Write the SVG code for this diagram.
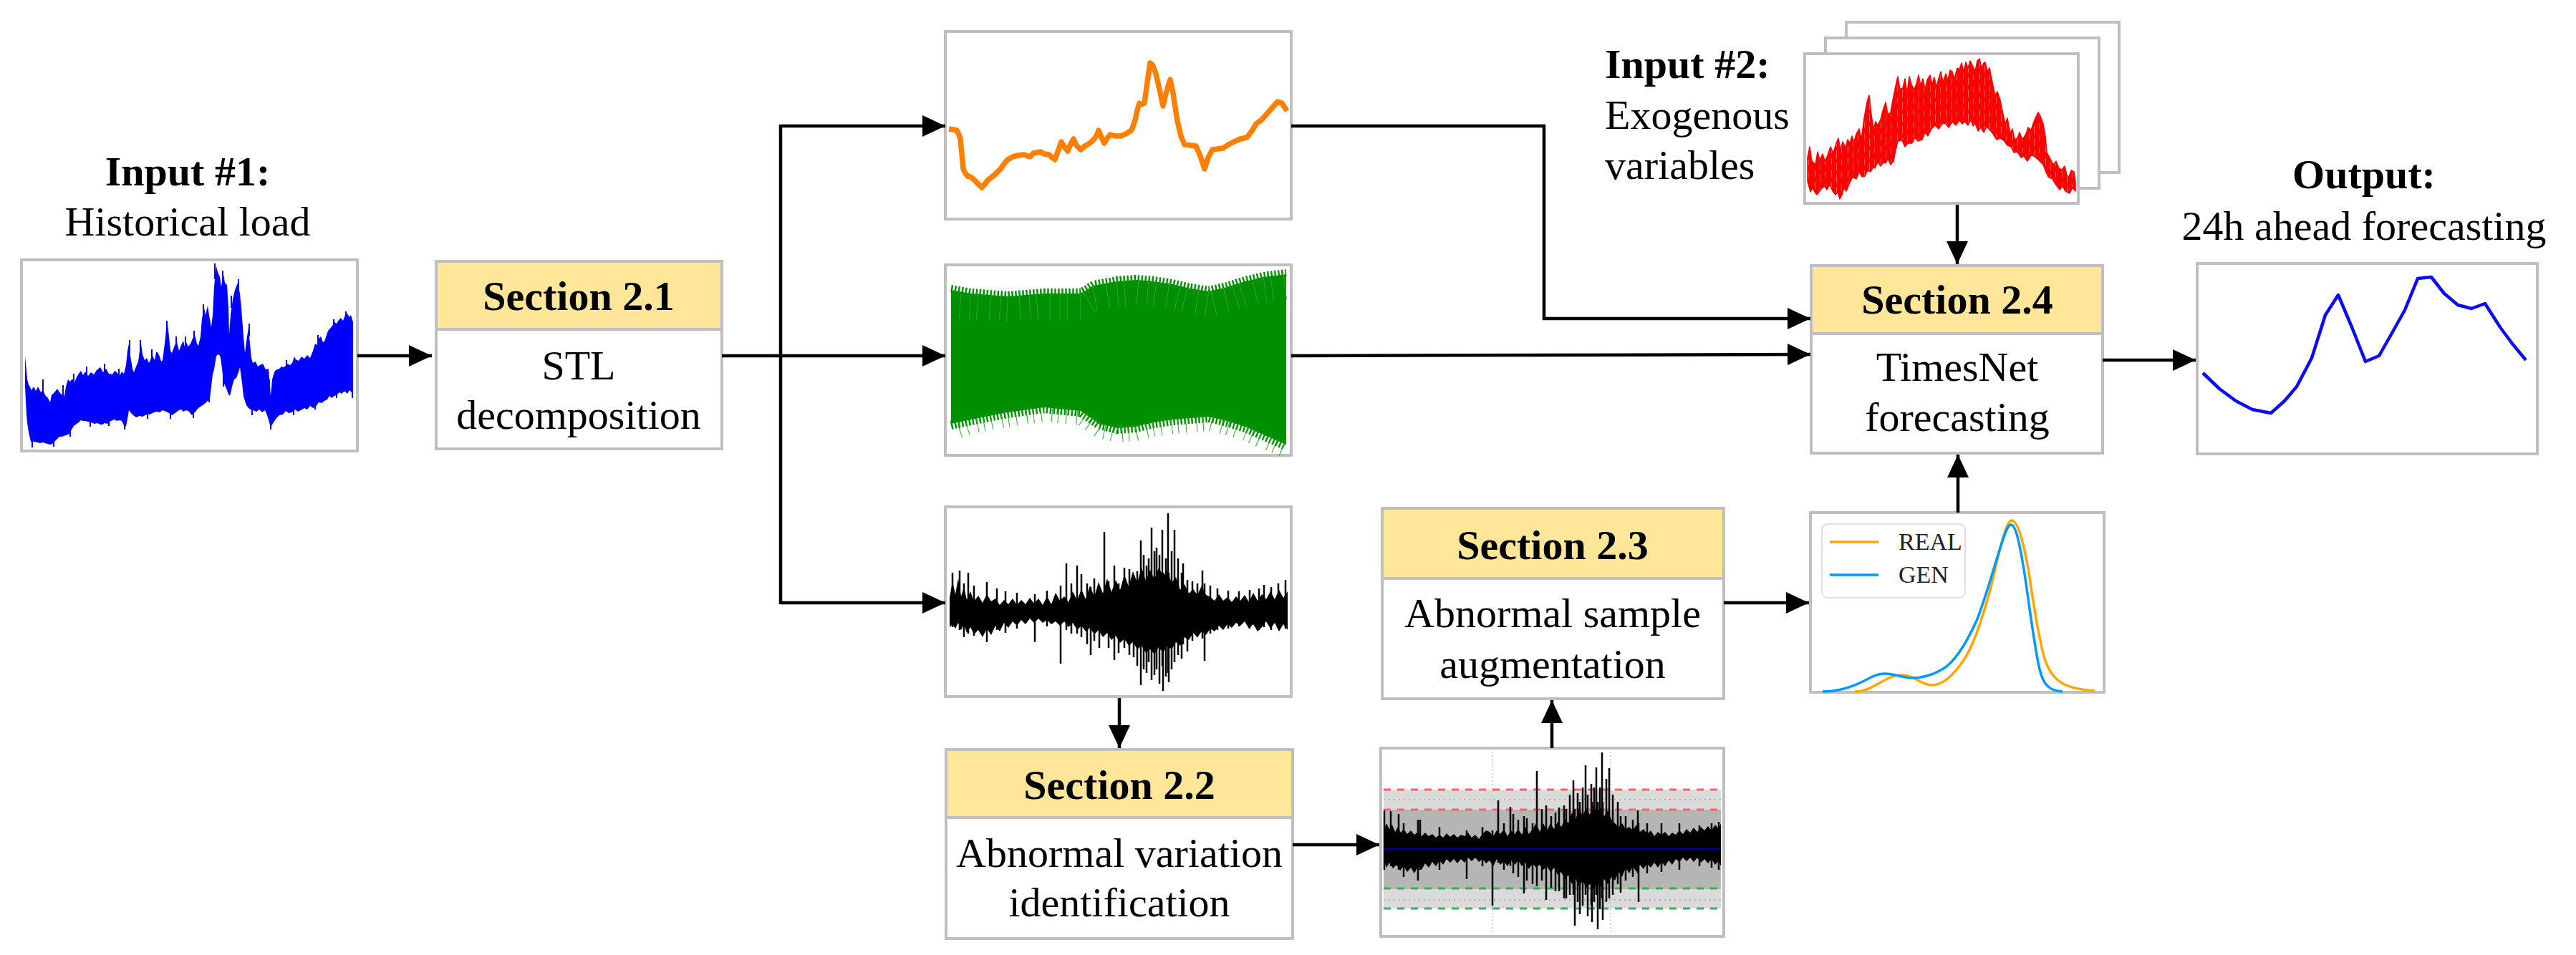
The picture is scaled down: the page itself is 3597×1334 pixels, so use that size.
<svg xmlns="http://www.w3.org/2000/svg" width="3597" height="1334" viewBox="0 0 3597 1334">
<style>
.box{fill:#fff;stroke:#bfbfbf;stroke-width:4}
.hdr{fill:#ffe699;stroke:#bfbfbf;stroke-width:4}
.t{font-family:"Liberation Serif","Times New Roman",serif;font-size:58px;fill:#000}
.b{font-weight:bold}
.c{text-anchor:middle}
.ln{fill:none;stroke:#000;stroke-width:4.5}
.lg{font-family:"Liberation Serif","Times New Roman",serif;font-size:34px;fill:#222}
</style>
<defs>
<marker id="ah" markerUnits="userSpaceOnUse" markerWidth="34" markerHeight="32" refX="32" refY="15" orient="auto"><path d="M0,0 L32,15 L0,30 z" fill="#000"/></marker>
<pattern id="redtex" width="23" height="17" patternUnits="userSpaceOnUse"><rect width="23" height="17" fill="#ff0000"/><rect x="4" y="0" width="0.7" height="9" fill="#ff9090"/><rect x="11" y="6" width="0.6" height="11" fill="#ffa0a0"/><rect x="18" y="2" width="0.7" height="8" fill="#ff8080"/></pattern>
</defs>
<rect width="3597" height="1334" fill="#fff"/>

<g id="input1">
<text class="t b c" x="262" y="259">Input #1:</text>
<text class="t c" x="262" y="329">Historical load</text>
<rect class="box" x="30" y="363" width="469" height="267"/>
<path fill="#0000ff" d="M35,497 L38,530 40,537 44,545 47,540 50,546 53,540 57,548 60,544 63,552 67,556 70,562 72,552 74,550 77,547 80,543 83,548 86,551 90,553 92,540 95,530 98,533 101,529 104,534 107,527 110,522 113,518 116,524 119,519 123,525 127,520 131,523 135,517 140,513 144,520 148,515 152,522 157,523 160,518 163,520 167,525 170,519 173,522 176,510 178,490 180,480 182,497 185,515 187,520 190,512 193,505 195,490 197,480 199,495 202,503 205,500 208,507 211,500 213,497 216,503 218,492 220,492 223,498 225,505 227,503 230,480 232,460 234,453 236,470 238,490 240,493 243,485 245,480 247,478 250,490 253,482 256,476 258,485 260,478 263,484 266,480 269,473 272,468 275,480 277,483 280,470 282,445 285,430 287,440 290,427 292,440 295,457 297,440 299,400 302,372 304,380 307,387 309,400 312,383 314,395 317,398 319,430 320,467 322,440 325,418 328,405 332,395 335,410 337,430 340,470 342,493 345,470 347,458 349,480 351,500 353,507 357,505 360,512 363,510 367,508 371,516 375,515 377,540 378,553 380,530 383,520 385,517 390,515 393,512 397,513 401,508 405,510 408,507 411,498 413,502 417,504 421,498 425,501 429,496 433,500 437,490 440,480 443,482 445,473 448,470 451,478 453,477 456,468 458,462 460,460 464,455 467,450 470,452 473,447 476,444 479,448 482,440 485,438 488,443 490,440 493,450 L493,553 491,548 488,545 485,550 482,547 480,547 477,550 474,548 470,552 467,553 463,556 460,553 457,558 453,560 449,563 445,562 441,568 437,570 433,567 429,572 425,570 420,573 416,575 412,572 408,576 403,577 399,574 395,579 390,580 386,584 382,590 379,595 378,597 376,590 373,580 370,573 366,576 362,572 358,575 353,573 350,572 347,570 344,566 342,560 340,553 338,535 336,520 335,513 333,520 330,528 327,530 324,540 322,550 320,553 317,545 314,538 312,533 310,515 308,500 307,497 305,495 302,497 300,510 298,520 297,523 295,540 293,557 290,560 287,563 283,566 280,568 277,570 273,575 270,578 268,580 264,575 260,573 256,575 253,572 250,573 246,576 243,578 240,580 236,577 232,575 227,573 223,576 218,575 213,577 209,579 206,578 203,580 199,582 195,581 190,583 186,580 183,577 180,573 178,585 176,595 174,597 172,592 170,588 167,587 163,588 160,586 157,587 153,589 150,592 146,591 143,593 140,593 136,591 132,592 127,590 123,589 119,588 116,588 113,587 110,590 107,592 103,595 100,600 98,604 95,607 92,608 89,609 86,610 83,610 80,613 76,617 73,620 70,621 66,620 63,619 60,618 56,619 52,618 48,617 43,617 40,604 38,590 37,580 35,540 Z"/>
<path fill="none" stroke="#0000ff" stroke-width="2" d="M60,530V560 M88,538V560 M103,522V540 M121,512V530 M146,508V525 M166,515V530 M181,475V500 M196,475V500 M212,488V505 M233,448V470 M246,470V490 M259,470V490 M271,462V485 M284,425V445 M300,368V390 M311,378V400 M323,413V430 M333,390V410 M348,452V470 M376,530V560 M400,503V515 M444,468V482 M466,446V460 M483,435V450 M45,600V625 M75,605V624 M98,595V610 M126,580V596 M152,580V595 M174,585V600 M206,570V585 M238,570V585 M270,570V584 M292,545V562 M312,520V540 M337,505V520 M352,565V580 M378,580V600 M410,565V580 M440,558V572 M470,545V556 M492,540V556"/>
</g>

<g id="section21">
<rect class="box" x="609" y="365" width="399" height="262"/>
<rect class="hdr" x="609" y="365" width="399" height="95"/>
<text class="t b c" x="808" y="433">Section 2.1</text>
<text class="t c" x="808" y="530">STL</text>
<text class="t c" x="808" y="599">decomposition</text>
</g>

<g id="trend">
<rect class="box" x="1320" y="44" width="483" height="262"/>
<polyline fill="none" stroke="#ff8000" stroke-width="7.5" stroke-linejoin="round" points="1325,180 1331,181 1336,182 1339,188 1341,194 1343,215 1345,236 1348,242 1351,246 1355,247 1359,250 1364,255 1368,259 1371,262 1376,256 1380,251 1384,248 1390,243 1397,236 1402,229 1407,223 1414,219 1422,217 1430,216 1438,219 1443,214 1448,213 1453,212 1458,215 1465,216 1470,221 1473,223 1477,212 1482,198 1486,205 1491,211 1495,201 1499,194 1503,203 1509,209 1515,204 1520,201 1524,198 1528,194 1532,188 1534,182 1538,192 1542,200 1546,193 1550,188 1557,190 1565,190 1572,187 1580,182 1585,168 1588,154 1591,144 1594,146 1598,144 1602,115 1606,88 1610,92 1614,103 1619,125 1624,148 1629,127 1634,111 1638,130 1641,150 1644,169 1649,190 1654,202 1662,203 1670,204 1676,218 1682,236 1687,220 1693,209 1700,208 1708,207 1715,202 1723,198 1732,194 1741,192 1748,183 1754,173 1762,167 1769,159 1776,151 1784,142 1790,144 1797,155"/>
</g>

<g id="seasonal">
<rect class="box" x="1320" y="370" width="483" height="266"/>
<path fill="#008f00" d="M1328,405 L1356,410 1407,414 1458,410 1509,410 1527,399 1560,393 1586,391 1611,393 1637,397 1662,403 1688,407 1713,401 1739,393 1764,387 1796,383 L1796,621 1764,607 1739,596 1713,588 1688,582 1637,586 1611,590 1586,596 1560,598 1535,592 1509,574 1458,569 1407,576 1356,586 1328,592 Z"/>
<polyline fill="none" stroke="#009300" stroke-width="10" stroke-dasharray="2.5 2.5" points="1328,403 1356,408 1407,412 1458,408 1509,408 1527,397 1560,391 1586,389 1611,391 1637,395 1662,401 1688,405 1713,399 1739,391 1764,385 1796,381"/>
<polyline fill="none" stroke="#009300" stroke-width="12" stroke-dasharray="2.5 2.5" points="1328,594 1356,588 1407,578 1458,571 1509,576 1535,594 1560,600 1586,598 1611,592 1637,588 1688,584 1713,590 1739,598 1764,609 1796,623"/>
<polyline fill="none" stroke="#2aa52a" stroke-width="34" stroke-dasharray="1 13 1 9 1 17" points="1340,428 1407,432 1458,428 1509,428 1527,417 1560,411 1586,409 1611,411 1637,415 1662,421 1688,425 1713,419 1739,411 1764,405 1796,401"/>
<polyline fill="none" stroke="#2aa52a" stroke-width="20" stroke-dasharray="1 10 1 14 1 8" points="1340,602 1356,596 1407,586 1458,579 1509,584 1535,602 1560,608 1586,606 1611,600 1637,596 1688,592 1713,598 1739,606 1764,617 1796,630"/>
</g>

<g id="residual">
<rect class="box" x="1320" y="708" width="483" height="265"/>
<path fill="#000" d="M1326,835 L1330,812 1334,830 1338,808 1342,833 1346,820 1350,838 1355,826 1360,840 1366,832 1372,842 1378,830 1384,840 1390,836 1396,845 1402,838 1408,844 1414,836 1420,845 1426,838 1432,844 1438,835 1444,843 1450,836 1456,845 1462,833 1468,844 1474,828 1480,839 1486,833 1492,841 1498,826 1504,839 1510,823 1516,837 1522,818 1528,834 1534,813 1540,829 1546,808 1552,827 1558,810 1564,824 1570,803 1576,819 1582,798 1588,814 1594,793 1600,811 1606,796 1612,809 1618,793 1624,804 1630,798 1636,814 1642,806 1648,824 1654,816 1660,829 1666,823 1672,831 1678,818 1684,831 1690,834 1696,839 1702,830 1708,839 1714,834 1720,841 1726,833 1732,839 1738,831 1744,841 1750,828 1756,839 1762,830 1768,837 1774,826 1780,837 1786,824 1792,835 1798,826 L1798,880 1792,872 1786,882 1780,870 1774,878 1768,868 1762,876 1756,882 1750,872 1744,878 1738,868 1732,874 1726,870 1720,877 1714,872 1708,880 1702,874 1696,882 1690,878 1684,887 1678,882 1672,890 1666,884 1660,894 1654,890 1648,902 1642,897 1636,907 1630,902 1624,912 1618,904 1612,914 1606,907 1600,912 1594,902 1588,907 1582,897 1576,902 1570,892 1564,898 1558,888 1552,894 1546,884 1540,890 1534,880 1528,886 1522,877 1516,882 1510,874 1504,880 1498,870 1492,876 1486,868 1480,874 1474,868 1468,872 1462,866 1456,870 1450,864 1444,870 1438,864 1432,872 1426,866 1420,874 1414,868 1408,877 1402,870 1396,882 1390,874 1384,887 1378,878 1372,890 1366,880 1360,886 1355,876 1350,884 1346,872 1342,880 1338,870 1334,878 1330,872 1326,876 Z"/>
<path fill="none" stroke="#000" stroke-width="2.5" d="M1330,800V876 M1340,797V880 M1346,815V890 M1352,800V885 M1360,818V888 M1378,813V897 M1392,822V880 M1404,826V884 M1420,828V878 M1445,830V897 M1462,825V875 M1481,818V927 M1489,787V880 M1496,815V885 M1504,790V885 M1510,802V890 M1518,815V900 M1523,820V915 M1528,808V895 M1535,820V905 M1542,743V880 M1548,812V905 M1556,790V922 M1562,815V912 M1570,793V905 M1577,795V915 M1583,810V918 M1588,798V930 M1593,755V957 M1597,775V935 M1601,790V940 M1604,780V925 M1608,737V950 M1612,770V943 M1615,765V935 M1619,775V955 M1623,740V930 M1624,800V965 M1628,780V945 M1631,717V940 M1632,800V953 M1636,770V935 M1640,740V925 M1645,780V915 M1650,800V920 M1652,787V900 M1658,810V910 M1665,812V895 M1672,815V890 M1679,797V892 M1682,815V923 M1690,818V885 M1700,822V880 M1715,825V878 M1730,826V875 M1745,824V878 M1758,822V880 M1765,817V876 M1775,820V880 M1785,815V878 M1795,810V878"/>
</g>

<g id="section22">
<rect class="box" x="1321" y="1047" width="484" height="264"/>
<rect class="hdr" x="1321" y="1047" width="484" height="95"/>
<text class="t b c" x="1563" y="1116">Section 2.2</text>
<text class="t c" x="1563" y="1211">Abnormal variation</text>
<text class="t c" x="1563" y="1280">identification</text>
</g>

<g id="abnormal-plot">
<rect class="box" x="1928" y="1045" width="479" height="263"/>
<rect x="1932" y="1103" width="471" height="166" fill="#dadada"/>
<rect x="1932" y="1131" width="471" height="111" fill="#b5b5b5"/>
<path fill="none" stroke="#c8c8c8" stroke-width="1.5" stroke-dasharray="2 3" d="M2084,1050V1303 M2249,1050V1303"/>
<path fill="none" stroke="#a0a0a0" stroke-width="1.5" stroke-dasharray="2 5" d="M1932,1117H2403 M1932,1257H2403"/>
<path fill="none" stroke="#ff6060" stroke-width="3" stroke-dasharray="10 9" d="M1932,1103H2403 M1932,1131H2403"/>
<path fill="none" stroke="#3cae5c" stroke-width="3" stroke-dasharray="10 9" d="M1932,1241H2403 M1932,1269H2403"/>
<path fill="#000" d="M1932,1160 L1936,1150 1940,1158 1944,1152 1948,1162 1952,1155 1956,1163 1960,1158 1965,1165 1970,1160 1975,1166 1980,1162 1985,1168 1990,1163 1995,1168 2000,1165 2005,1170 2010,1166 2015,1170 2020,1164 2025,1169 2030,1165 2035,1170 2040,1166 2045,1168 2050,1163 2055,1170 2060,1166 2065,1172 2070,1165 2075,1160 2080,1162 2085,1168 2090,1160 2095,1165 2100,1158 2105,1168 2110,1160 2115,1165 2120,1158 2125,1166 2130,1155 2135,1165 2140,1158 2145,1150 2150,1162 2155,1150 2160,1160 2165,1150 2170,1158 2175,1148 2180,1155 2185,1145 2190,1150 2195,1135 2200,1145 2205,1130 2210,1140 2215,1128 2220,1138 2225,1125 2230,1135 2235,1128 2240,1140 2245,1132 2250,1145 2255,1150 2260,1155 2265,1150 2270,1158 2275,1155 2280,1160 2285,1152 2290,1162 2295,1158 2300,1165 2305,1160 2310,1168 2315,1162 2320,1166 2325,1162 2330,1168 2335,1163 2340,1166 2345,1160 2350,1165 2355,1158 2360,1163 2365,1156 2370,1162 2375,1155 2380,1160 2385,1154 2390,1160 2395,1152 2400,1158 2403,1150 L2403,1210 2400,1202 2395,1208 2390,1200 2385,1206 2380,1200 2375,1205 2370,1198 2365,1204 2360,1198 2355,1203 2350,1198 2345,1204 2340,1200 2335,1208 2330,1202 2325,1210 2320,1204 2315,1212 2310,1205 2305,1212 2300,1206 2295,1214 2290,1208 2285,1218 2280,1210 2275,1220 2270,1212 2265,1225 2260,1218 2255,1230 2250,1225 2245,1235 2240,1228 2235,1240 2230,1232 2225,1242 2220,1235 2215,1240 2210,1230 2205,1238 2200,1228 2195,1235 2190,1222 2185,1228 2180,1218 2175,1222 2170,1212 2165,1218 2160,1210 2155,1215 2150,1208 2145,1212 2140,1206 2135,1214 2130,1205 2125,1210 2120,1202 2115,1208 2110,1202 2105,1210 2100,1203 2095,1208 2090,1200 2085,1210 2080,1202 2075,1206 2070,1200 2065,1204 2060,1198 2055,1203 2050,1198 2045,1205 2040,1200 2035,1206 2030,1200 2025,1205 2020,1200 2015,1208 2010,1202 2005,1210 2000,1204 1995,1212 1990,1206 1985,1215 1980,1210 1975,1220 1970,1212 1965,1218 1960,1210 1955,1216 1950,1208 1945,1213 1940,1205 1936,1212 1932,1200 Z"/>
<path fill="none" stroke="#000" stroke-width="2.5" d="M1933,1132V1215 M1942,1133V1210 M1953,1137V1215 M1960,1150V1225 M1980,1145V1230 M1983,1145V1215 M2010,1155V1215 M2048,1160V1228 M2070,1155V1210 M2084,1160V1265 M2092,1118V1205 M2100,1150V1215 M2109,1127V1210 M2113,1137V1220 M2120,1145V1225 M2128,1140V1248 M2132,1143V1230 M2140,1150V1235 M2146,1077V1238 M2153,1130V1230 M2159,1125V1257 M2166,1140V1240 M2172,1135V1245 M2177,1128V1245 M2184,1125V1255 M2187,1130V1255 M2192,1110V1250 M2197,1090V1250 M2199,1130V1293 M2203,1108V1260 M2206,1120V1277 M2210,1100V1265 M2214,1069V1250 M2217,1110V1280 M2222,1095V1265 M2223,1120V1288 M2226,1100V1260 M2229,1072V1250 M2231,1120V1298 M2234,1100V1270 M2237,1051V1255 M2238,1120V1285 M2243,1088V1260 M2247,1073V1255 M2252,1110V1250 M2259,1120V1235 M2263,1140V1247 M2270,1140V1230 M2280,1145V1225 M2287,1132V1220 M2288,1150V1260 M2300,1150V1220 M2320,1150V1218 M2345,1150V1215 M2373,1153V1210 M2390,1150V1212 M2400,1148V1215"/>
<line x1="1932" y1="1186" x2="2403" y2="1186" stroke="#000080" stroke-width="3.5"/>
</g>

<g id="section23">
<rect class="box" x="1930" y="710" width="477" height="266"/>
<rect class="hdr" x="1930" y="710" width="477" height="98"/>
<text class="t b c" x="2168" y="781">Section 2.3</text>
<text class="t c" x="2168" y="876">Abnormal sample</text>
<text class="t c" x="2168" y="947">augmentation</text>
</g>

<g id="kde-plot">
<rect class="box" x="2528" y="716" width="410" height="251"/>
<path fill="none" stroke="#ffa500" stroke-width="3.5" d="M2590,966 C2610,966 2625,952 2640,946 C2650,942 2660,942 2670,946 C2680,951 2688,957 2697,957 C2712,957 2725,946 2740,925 C2755,905 2768,865 2780,820 C2790,780 2800,727 2809,727 C2818,727 2826,760 2833,800 C2840,845 2846,890 2855,920 C2865,950 2880,962 2925,965"/>
<path fill="none" stroke="#0099ff" stroke-width="3.5" d="M2545,966 C2570,966 2590,958 2605,950 C2615,945 2622,941 2632,941 C2645,941 2658,947 2670,947 C2685,947 2700,942 2712,935 C2728,926 2745,900 2760,867 C2775,830 2790,770 2800,745 C2803,737 2805,733 2808,733 C2815,733 2820,760 2826,795 C2833,840 2840,900 2848,935 C2853,955 2860,965 2880,966"/>
<rect x="2544" y="732" width="200" height="103" rx="8" fill="#fff" fill-opacity="0.85" stroke="#e0e0e0" stroke-width="2"/>
<line x1="2555" y1="757" x2="2623" y2="757" stroke="#ffa500" stroke-width="3.5"/>
<line x1="2555" y1="803" x2="2623" y2="803" stroke="#0099ff" stroke-width="3.5"/>
<text class="lg" x="2651" y="768">REAL</text>
<text class="lg" x="2651" y="814">GEN</text>
</g>

<g id="input2">
<text class="t b" x="2241" y="109">Input #2:</text>
<text class="t" x="2241" y="180">Exogenous</text>
<text class="t" x="2241" y="250">variables</text>
<rect class="box" x="2578" y="31" width="381" height="210"/>
<rect class="box" x="2549" y="53" width="382" height="210"/>
<rect class="box" x="2520" y="75" width="382" height="209"/>
<path fill="url(#redtex)" stroke="#ff0000" stroke-width="1.5" stroke-linejoin="round" d="M2524,220 L2527,205 2530,225 2535,230 2538,212 2541,224 2545,215 2548,225 2552,217 2556,205 2560,214 2564,200 2567,193 2570,210 2573,198 2577,206 2580,195 2583,200 2586,190 2589,198 2592,187 2596,180 2599,195 2603,165 2607,143 2610,133 2613,160 2616,180 2619,170 2622,175 2626,167 2629,155 2633,143 2636,160 2640,157 2643,140 2647,120 2650,107 2653,125 2657,123 2660,110 2663,130 2666,107 2669,118 2673,125 2676,117 2679,105 2682,120 2685,110 2688,125 2691,112 2695,105 2698,118 2701,108 2704,122 2707,110 2710,100 2713,115 2717,103 2720,112 2723,98 2726,100 2729,110 2733,95 2736,97 2739,88 2742,100 2745,87 2748,95 2751,85 2755,93 2758,100 2761,85 2764,82 2767,95 2770,88 2772,87 2775,100 2778,95 2781,110 2784,125 2786,133 2789,128 2793,140 2796,155 2800,173 2803,165 2807,187 2810,180 2813,195 2817,193 2820,185 2824,195 2829,187 2832,178 2836,182 2839,173 2842,165 2846,157 2849,162 2853,173 2856,190 2858,213 2862,220 2867,230 2871,225 2875,235 2879,237 2883,232 2886,245 2889,247 2892,238 2896,240 2898,253 L2898,267 2894,262 2890,270 2884,267 2880,260 2876,265 2870,257 2866,250 2860,247 2856,238 2853,230 2850,227 2845,222 2840,218 2836,217 2831,225 2826,218 2822,220 2817,212 2812,213 2808,205 2803,203 2798,196 2793,193 2788,195 2783,187 2779,182 2774,177 2770,185 2766,178 2762,183 2758,172 2755,176 2752,167 2748,175 2744,170 2740,173 2736,168 2731,175 2726,170 2721,178 2716,172 2712,173 2707,180 2702,175 2697,180 2692,190 2688,185 2684,195 2678,197 2674,192 2670,200 2664,200 2660,205 2656,196 2650,197 2647,210 2644,225 2640,230 2636,222 2633,228 2630,227 2626,232 2622,226 2618,235 2616,233 2612,240 2608,238 2604,246 2600,247 2596,240 2592,250 2587,247 2583,255 2578,267 2575,262 2572,272 2569,278 2566,268 2563,272 2559,267 2555,258 2551,265 2548,260 2544,263 2540,268 2537,272 2535,270 2531,262 2528,268 2524,253 Z"/>
</g>

<g id="section24">
<rect class="box" x="2529" y="371" width="407" height="262"/>
<rect class="hdr" x="2529" y="371" width="407" height="95"/>
<text class="t b c" x="2733" y="438">Section 2.4</text>
<text class="t c" x="2733" y="532">TimesNet</text>
<text class="t c" x="2733" y="602">forecasting</text>
</g>

<g id="output">
<text class="t b c" x="3301" y="263">Output:</text>
<text class="t c" x="3301" y="335">24h ahead forecasting</text>
<rect class="box" x="3068" y="368" width="475" height="266"/>
<polyline fill="none" stroke="#0a0aff" stroke-width="4.5" stroke-linejoin="round" points="3076,521 3099,543 3122,560 3145,572 3171,577 3190,560 3207,540 3228,500 3247,440 3265,412 3284,457 3303,505 3322,497 3339,467 3358,433 3376,389 3395,387 3413,410 3432,426 3451,431 3470,424 3491,457 3508,480 3527,503"/>
</g>

<g id="connectors">
<path class="ln" marker-end="url(#ah)" d="M499,497 H603"/>
<path class="ln" marker-end="url(#ah)" d="M1008,497 H1320"/>
<path class="ln" d="M1090,174 V844"/>
<path class="ln" marker-end="url(#ah)" d="M1090,176 H1320"/>
<path class="ln" marker-end="url(#ah)" d="M1090,842 H1320"/>
<path class="ln" marker-end="url(#ah)" d="M1803,176 H2156 V445 H2528"/>
<path class="ln" marker-end="url(#ah)" d="M1803,497 L2528,495"/>
<path class="ln" marker-end="url(#ah)" d="M1563,975 V1045"/>
<path class="ln" marker-end="url(#ah)" d="M1805,1180 H1926"/>
<path class="ln" marker-end="url(#ah)" d="M2167,1045 V978"/>
<path class="ln" marker-end="url(#ah)" d="M2407,842 H2526"/>
<path class="ln" marker-end="url(#ah)" d="M2734,716 V635"/>
<path class="ln" marker-end="url(#ah)" d="M2733,286 V369"/>
<path class="ln" marker-end="url(#ah)" d="M2936,503 H3066"/>
</g>
</svg>
